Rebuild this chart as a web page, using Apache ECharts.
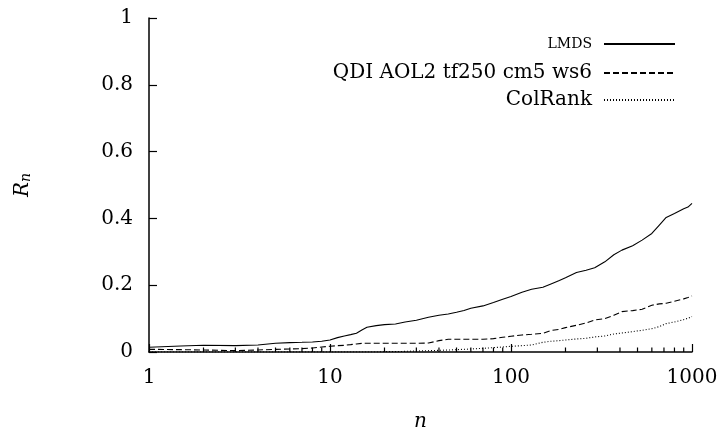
<!DOCTYPE html>
<html>
<head>
<meta charset="utf-8">
<script src="https://cdn.jsdelivr.net/npm/echarts@6/dist/echarts.min.js"></script>
<style>
  html, body { margin: 0; padding: 0; background: #fff; }
  #chart { width: 719px; height: 430px; }
</style>
</head>
<body>
<div id="chart"></div>
<script>
// Cut-off n (log scale) and recall R_n of each method
const nValues = [1, 1.5, 2, 3, 4, 5, 6, 7, 8, 9, 10, 11, 12, 13, 14, 15, 16, 18, 20, 23,
  26, 30, 35, 40, 45, 50, 55, 60, 70, 80, 90, 100, 115, 130, 150, 165, 185, 200, 230, 260,
  290, 330, 370, 410, 470, 530, 600, 660, 720, 800, 900, 950, 1000];

const lmds = [0.014, 0.018, 0.020, 0.019, 0.021, 0.026, 0.028, 0.029, 0.030, 0.032,
  0.036, 0.043, 0.048, 0.052, 0.056, 0.066, 0.074, 0.079, 0.082, 0.084,
  0.090, 0.095, 0.104, 0.110, 0.114, 0.119, 0.124, 0.131, 0.138, 0.148,
  0.158, 0.166, 0.179, 0.188, 0.194, 0.203, 0.214, 0.222, 0.238, 0.245,
  0.252, 0.270, 0.291, 0.305, 0.318, 0.335, 0.355, 0.380, 0.403, 0.415,
  0.429, 0.434, 0.445];

const qdi = [0.008, 0.007, 0.006, 0.004, 0.006, 0.008, 0.009, 0.010, 0.012, 0.015,
  0.017, 0.019, 0.020, 0.022, 0.024, 0.026, 0.026, 0.026, 0.026, 0.026,
  0.026, 0.026, 0.027, 0.034, 0.038, 0.038, 0.038, 0.038, 0.038, 0.040,
  0.044, 0.047, 0.051, 0.053, 0.056, 0.064, 0.068, 0.073, 0.080, 0.087,
  0.096, 0.100, 0.110, 0.121, 0.124, 0.128, 0.140, 0.144, 0.146, 0.152,
  0.159, 0.163, 0.168];

const colRank = [0, 0, 0, 0, 0, 0, 0, 0, 0, 0,
  0, 0, 0, 0, 0, 0, 0, 0, 0.001, 0.001,
  0.002, 0.003, 0.004, 0.005, 0.006, 0.007, 0.008, 0.009, 0.011, 0.013,
  0.015, 0.017, 0.019, 0.021, 0.029, 0.032, 0.034, 0.036, 0.039, 0.041,
  0.045, 0.048, 0.054, 0.057, 0.061, 0.065, 0.070, 0.076, 0.085, 0.090,
  0.097, 0.101, 0.106];

const seriesNames = ['LMDS', 'QDI AOL2 tf250 cm5 ws6', 'ColRank'];
const xRange = [1, 1000];
const yRange = [0, 1];
const yStep = 0.2;
// intermediate log ticks 2..9 in every decade
const minorTickValues = [2, 3, 4, 5, 6, 7, 8, 9, 20, 30, 40, 50, 60, 70, 80, 90,
  200, 300, 400, 500, 600, 700, 800, 900];

const FONT = '"DejaVu Serif", "Liberation Serif", serif';
const pairs = ys => nValues.map((n, i) => [n, ys[i]]);

const lineSeries = (name, ys, type) => ({
  name: name,
  type: 'line',
  data: pairs(ys),
  showSymbol: false,
  symbol: 'none',
  smooth: false,
  lineStyle: { color: '#000', width: 1.1, type: type },
  itemStyle: { color: '#000' },
  emphasis: { disabled: true },
  z: 3
});

const legendTops = [37, 63, 90];
const legendFonts = [14, 20, 20];

const chart = echarts.init(document.getElementById('chart'), null, { renderer: 'canvas' });
chart.setOption({
  animation: false,
  backgroundColor: '#fff',
  grid: { left: 149, right: 27, top: 18, bottom: 78, containLabel: false, outerBoundsMode: 'none' },
  legend: seriesNames.map((name, i) => ({
    data: [{ name: name, textStyle: { fontSize: legendFonts[i] } }],
    right: 43,
    top: legendTops[i],
    orient: 'vertical',
    align: 'right',
    padding: 0,
    itemWidth: 71,
    itemHeight: 12,
    selectedMode: false,
    itemStyle: { opacity: 0, borderWidth: 0 },
    textStyle: { fontFamily: FONT, fontSize: 20, color: '#000', padding: [0, 7, 0, 0] }
  })),
  xAxis: {
    type: 'log',
    logBase: 10,
    min: xRange[0],
    max: xRange[1],
    splitNumber: 3,
    name: 'n',
    nameLocation: 'middle',
    nameGap: 60,
    nameTextStyle: { fontFamily: FONT, fontSize: 20, fontStyle: 'italic', color: '#000' },
    axisLine: { lineStyle: { color: '#000', width: 1.5 } },
    axisTick: { inside: true, length: 8, lineStyle: { color: '#000', width: 1.2 } },
    axisLabel: {
      fontFamily: FONT, fontSize: 20, color: '#000', margin: 16,
      formatter: v => String(v)
    },
    splitLine: { show: false }
  },
  yAxis: {
    type: 'value',
    min: yRange[0],
    max: yRange[1],
    interval: yStep,
    name: '{r|R}{s|n}',
    nameLocation: 'middle',
    nameRotate: 90,
    nameGap: 116,
    nameTextStyle: {
      color: '#000',
      rich: {
        r: { fontFamily: FONT, fontSize: 20, fontStyle: 'italic', color: '#000', verticalAlign: 'bottom', lineHeight: 24 },
        s: { fontFamily: FONT, fontSize: 14, fontStyle: 'italic', color: '#000', verticalAlign: 'bottom', lineHeight: 16 }
      }
    },
    axisLine: { show: true, lineStyle: { color: '#000', width: 1.5 } },
    axisTick: { show: true, inside: true, length: 8, lineStyle: { color: '#000', width: 1.2 } },
    axisLabel: { fontFamily: FONT, fontSize: 20, color: '#000', margin: 16 },
    splitLine: { show: false }
  },
  series: [
    lineSeries(seriesNames[0], lmds, 'solid'),
    lineSeries(seriesNames[1], qdi, [6, 3]),
    lineSeries(seriesNames[2], colRank, [1, 2]),
    {
      name: 'minor ticks',
      type: 'custom',
      silent: true,
      z: 4,
      data: minorTickValues.map(v => [v, yRange[0]]),
      renderItem: (params, api) => {
        const p = api.coord([api.value(0), api.value(1)]);
        return {
          type: 'line',
          shape: { x1: p[0], y1: p[1], x2: p[0], y2: p[1] - 4.5 },
          style: { stroke: '#000', lineWidth: 1.2 }
        };
      }
    }
  ]
});
</script>
</body>
</html>
